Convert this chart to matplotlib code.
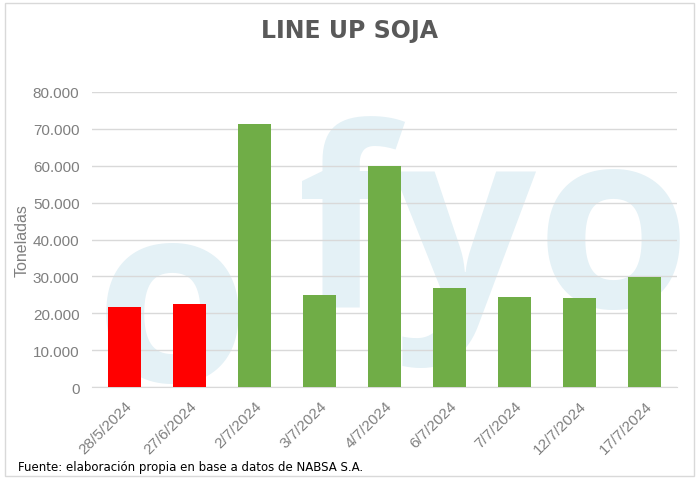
import matplotlib
matplotlib.use('Agg')
import matplotlib.pyplot as plt
from matplotlib.patches import Rectangle
from matplotlib.ticker import FuncFormatter

fechas = ['28/5/2024', '27/6/2024', '2/7/2024', '3/7/2024', '4/7/2024',
          '6/7/2024', '7/7/2024', '12/7/2024', '17/7/2024']
toneladas = [21800, 22600, 71400, 25000, 60000, 26900, 24500, 24200, 29900]
colores = ['#ff0000', '#ff0000'] + ['#70ad47'] * 7

gris = '#7f7f7f'
fig = plt.figure(figsize=(6.99, 4.81), dpi=100)
ax = fig.add_axes([0.1316, 0.1933, 0.837, 0.6134])

# marco del grafico
fig.patches.append(Rectangle((0.007, 0.008), 0.986, 0.983, transform=fig.transFigure,
                             fill=False, edgecolor='#d9d9d9', linewidth=1))

# marca de agua (detras de las barras)
wm = '#e4f1f6'
ax.text(0.425, 0.36, 'fyo', fontsize=180, color=wm, family='Open Sans', fontweight='bold',
        ha='left', va='baseline', zorder=1, transform=fig.transFigure, clip_on=False)
ax.text(0.135, 0.205, 'o', fontsize=180, color=wm, family='Open Sans', fontweight='bold',
        ha='left', va='baseline', zorder=1, transform=fig.transFigure, clip_on=False)

x = range(len(fechas))
ax.bar(x, toneladas, width=0.5, color=colores, zorder=3)
ax.set_facecolor('none')
ax.set_xlim(-0.5, len(fechas) - 0.5)
ax.set_ylim(0, 80000)
ax.set_yticks(range(0, 80001, 10000))
ax.yaxis.set_major_formatter(FuncFormatter(lambda v, p: f'{int(v):,}'.replace(',', '.')))
ax.grid(axis='y', color='#d9d9d9', linewidth=1, zorder=2)
ax.set_axisbelow(False)
ax.set_xticks(list(x))
ax.set_xticklabels(fechas, rotation=45, ha='right', rotation_mode='anchor')
ax.tick_params(length=0, colors=gris, labelsize=11)
ax.tick_params(axis='x', labelsize=11, pad=8)
ax.tick_params(axis='y', pad=9)
for lab in ax.get_xticklabels() + ax.get_yticklabels():
    lab.set_family('Liberation Sans')
for s in ['top', 'right', 'left']:
    ax.spines[s].set_visible(False)
ax.spines['bottom'].set_color('#d9d9d9')
ax.spines['bottom'].set_zorder(2)

fig.text(0.032, 0.5, 'Toneladas', rotation=90, ha='center', va='center',
         color=gris, fontsize=11.5, family='Liberation Sans')
fig.text(0.5, 0.935, 'LINE UP SOJA', ha='center', va='center', fontsize=17,
         fontweight='bold', color='#595959')
fig.text(0.026, 0.028, 'Fuente: elaboración propia en base a datos de NABSA S.A.',
         fontsize=8.5, color='black', ha='left', va='center')

fig.savefig('out.png', dpi=100)
